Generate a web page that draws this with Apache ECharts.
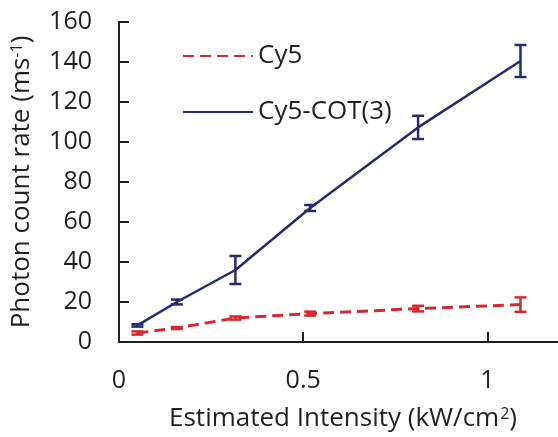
<!DOCTYPE html>
<html>
<head>
<meta charset="utf-8">
<script src="https://cdn.jsdelivr.net/npm/echarts@6/dist/echarts.min.js"></script>
<style>
  html, body { margin: 0; padding: 0; background: #ffffff; }
  #chart { width: 558px; height: 437px; }
</style>
</head>
<body>
<div id="chart"></div>
<script>
// ---- data ----
const intensity = [0.05, 0.157, 0.316, 0.519, 0.812, 1.09];   // kW/cm2
const cy5Rate   = [4.5, 7, 12, 14.2, 16.7, 18.7];              // ms^-1
const cy5Err    = [0.8, 0.5, 0.8, 1.0, 1.4, 3.6];
const cotRate   = [8.3, 20, 36, 67, 107.3, 140.5];
const cotErr    = [0.6, 1.2, 7.0, 1.5, 5.8, 8.0];
const seriesNames = ['Cy5', 'Cy5-COT(3)'];
const xTicks = [0, 0.5, 1];
const yTicks = [0, 20, 40, 60, 80, 100, 120, 140, 160];

const RED = '#d52a2e';
const BLUE = '#262d6e';
const INK = '#231f20';
const FONT = '"Open Sans", "Noto Sans", sans-serif';

function pairs(xs, ys) { return xs.map((x, i) => [x, ys[i]]); }
function errData(xs, ys, es) { return xs.map((x, i) => [x, ys[i] - es[i], ys[i] + es[i]]); }

function errRenderer(color) {
  return function (params, api) {
    const x = api.value(0);
    const top = api.coord([x, api.value(2)]);
    const bot = api.coord([x, api.value(1)]);
    const hw = 6;
    const st = { stroke: color, lineWidth: 2.5 };
    return {
      type: 'group',
      children: [
        { type: 'line', shape: { x1: top[0], y1: top[1], x2: bot[0], y2: bot[1] }, style: st },
        { type: 'line', shape: { x1: top[0] - hw, y1: top[1], x2: top[0] + hw, y2: top[1] }, style: st },
        { type: 'line', shape: { x1: bot[0] - hw, y1: bot[1], x2: bot[0] + hw, y2: bot[1] }, style: st }
      ]
    };
  };
}

const chart = echarts.init(document.getElementById('chart'), null, { renderer: 'canvas' });
chart.setOption({
  animation: false,
  backgroundColor: '#ffffff',
  textStyle: { fontFamily: FONT, color: INK },
  grid: { left: 119, right: -3, top: 22, bottom: 95, containLabel: false, outerBoundsMode: 'none' },
  legend: {
    data: seriesNames,
    orient: 'vertical',
    left: 177,
    top: 38,
    itemWidth: 70,
    itemHeight: 14,
    itemGap: 30,
    itemStyle: { opacity: 0 },
    textStyle: { fontFamily: FONT, fontSize: 26, color: INK },
    inactiveColor: '#ccc'
  },
  xAxis: {
    type: 'value',
    min: 0, max: 1.2, interval: 0.5,
    name: 'Estimated Intensity (kW/cm{s|2})',
    nameLocation: 'middle',
    nameGap: 64,
    nameTextStyle: {
      fontFamily: FONT, fontSize: 26, color: INK, padding: [0, 0, 0, 6],
      rich: { s: { fontFamily: FONT, fontSize: 16, color: INK, verticalAlign: 'top', padding: [0, 0, 8, 1] } }
    },
    axisLine: { show: true, lineStyle: { color: INK, width: 2 } },
    axisTick: { show: true, inside: true, length: 10, lineStyle: { color: INK, width: 2 } },
    axisLabel: {
      margin: 26, fontSize: 25, fontFamily: FONT, color: INK,
      formatter: v => (xTicks.indexOf(v) >= 0 ? String(v) : '')
    },
    splitLine: { show: false }
  },
  yAxis: {
    type: 'value',
    min: 0, max: 160, interval: 20,
    name: 'Photon count rate (ms{s|-1})',
    nameLocation: 'middle',
    nameGap: 84,
    nameTextStyle: {
      fontFamily: FONT, fontSize: 26, color: INK,
      rich: { s: { fontFamily: FONT, fontSize: 16, color: INK, verticalAlign: 'top', padding: [0, 0, 8, 0] } }
    },
    axisLine: { show: true, lineStyle: { color: INK, width: 2 } },
    axisTick: { show: true, inside: true, length: 10, lineStyle: { color: INK, width: 2 } },
    axisLabel: {
      margin: 27, fontSize: 25, fontFamily: FONT, color: INK,
      formatter: v => (yTicks.indexOf(v) >= 0 ? String(v) : '')
    },
    splitLine: { show: false }
  },
  series: [
    {
      name: seriesNames[0], type: 'line', data: pairs(intensity, cy5Rate),
      symbol: 'none', color: RED,
      lineStyle: { color: RED, width: 3, type: [11, 6] }, z: 3
    },
    {
      name: seriesNames[1], type: 'line', data: pairs(intensity, cotRate),
      symbol: 'none', color: BLUE,
      lineStyle: { color: BLUE, width: 2.5, type: 'solid' }, z: 3
    },
    {
      name: 'cy5-err', type: 'custom', data: errData(intensity, cy5Rate, cy5Err),
      renderItem: errRenderer(RED), encode: { x: 0, y: [1, 2] }, z: 4, silent: true
    },
    {
      name: 'cot-err', type: 'custom', data: errData(intensity, cotRate, cotErr),
      renderItem: errRenderer(BLUE), encode: { x: 0, y: [1, 2] }, z: 4, silent: true
    }
  ]
});
</script>
</body>
</html>
